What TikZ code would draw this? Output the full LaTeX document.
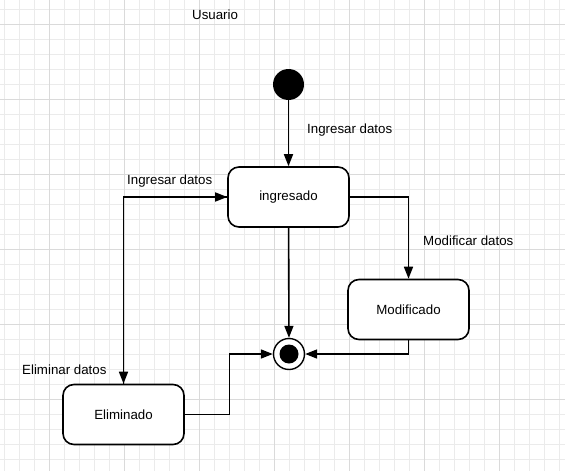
\documentclass[tikz,border=0pt]{standalone}
\usepackage{fontspec}
\setmainfont{Liberation Sans}
\usetikzlibrary{arrows.meta}
\definecolor{gridminor}{HTML}{EBEBEB}
\definecolor{gridmajor}{HTML}{DADADA}
\begin{document}
\begin{tikzpicture}[x=1pt,y=-1pt,
  txt/.style={font=\fontsize{13.3}{16}\selectfont},
  state/.style={draw, line width=1.6pt, rounded corners=11pt, minimum width=121pt, minimum height=60pt, fill=white, txt},
  lbl/.style={anchor=west, inner sep=0pt, txt},
  conn/.style={line width=1.6pt, -{Triangle[length=12pt,width=9pt]}}]
\useasboundingbox (0,0) rectangle (565,471);
\fill[white] (0,0) rectangle (565,471);
% grid
\foreach \i in {0,...,37} {\draw[gridminor, line width=1pt] (4.5+15*\i,0) -- (4.5+15*\i,471);}
\foreach \i in {0,...,30} {\draw[gridminor, line width=1pt] (0,9.5+15*\i) -- (565,9.5+15*\i);}
\foreach \i in {0,...,6} {\draw[gridmajor, line width=1pt] (49.5+75*\i,0) -- (49.5+75*\i,471);}
\foreach \i in {0,...,5} {\draw[gridmajor, line width=1pt] (0,24.5+75*\i) -- (565,24.5+75*\i);}
% title
\node[lbl] (title) at (192,15) {Usuario};
% states
\node[circle, fill=black, minimum size=31pt, inner sep=0pt] (start) at (288.5,84.5) {};
\node[state] (ing) at (288.5,197) {ingresado};
\node[state] (mod) at (408.5,309.5) {Modificado};
\node[state] (eli) at (123.5,414.5) {Eliminado};
\node[circle, draw, line width=1.4pt, fill=white, minimum size=31pt, inner sep=0pt] (end) at (289,354) {};
\node[circle, fill=black, minimum size=19pt, inner sep=0pt] (endin) at (end) {};
\coordinate (cx) at (229.5,0);
% connectors
\draw[conn] (start) -- (ing);
\draw[conn] (ing) -- (end);
\draw[conn] (ing.east) -| (mod.north);
\draw[conn] (mod.south) |- (end.east);
\draw[conn] (eli.east) -- (eli.east -| cx) |- (end.west);
\draw[conn] (ing.west) -| (eli.north);
\draw[conn] (eli.north) |- (ing.west);
% labels
\node[lbl] (l1) at (307,130) {Ingresar datos};
\node[lbl] (l2) at (127,181) {Ingresar datos};
\node[lbl] (l3) at (423,241) {Modificar datos};
\node[lbl] (l4) at (22,370) {Eliminar datos};
\end{tikzpicture}
\end{document}
